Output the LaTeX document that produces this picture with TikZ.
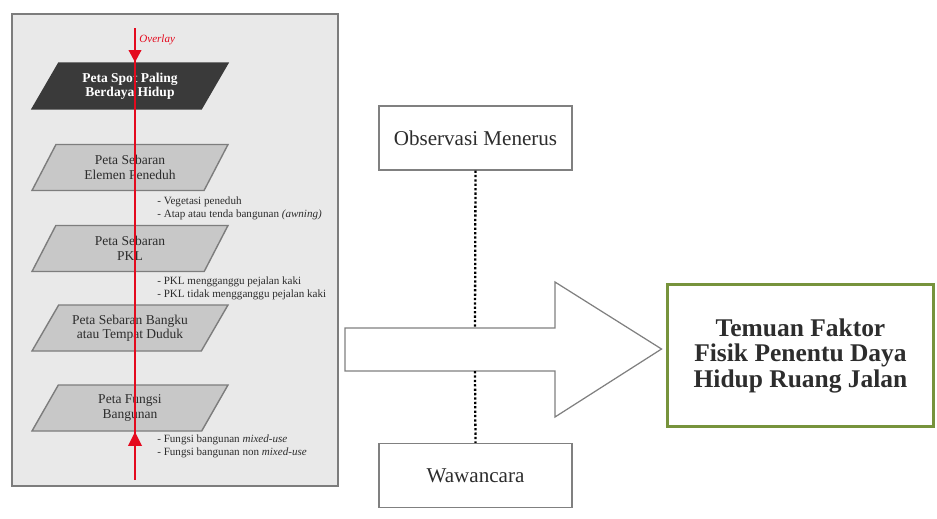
\documentclass[tikz,border=0pt]{standalone}
\usepackage{fontspec}
\setmainfont{Liberation Serif}
\usetikzlibrary{arrows.meta,shapes.geometric}
\definecolor{panelgray}{RGB}{233,233,233}
\definecolor{paragray}{RGB}{200,200,200}
\definecolor{paraedge}{RGB}{125,125,125}
\definecolor{darkpara}{RGB}{58,58,58}
\definecolor{textgray}{RGB}{45,45,45}
\definecolor{boxedge}{RGB}{128,128,128}
\definecolor{resgreen}{RGB}{119,147,60}
\definecolor{ovred}{RGB}{228,10,30}

\begin{document}
\begin{tikzpicture}[x=0.02cm, y=-0.02cm,
  peta/.style={trapezium, trapezium left angle=45, trapezium right angle=135,
    trapezium stretches body, minimum width=3.92cm, minimum height=0.92cm,
    draw=paraedge, fill=paragray, line width=0.8pt, align=center, inner sep=0pt,
    font=\fontsize{7.7}{8.2}\selectfont, text=textgray},
  note/.style={right, align=left, inner sep=0pt,
    font=\fontsize{6.3}{7.4}\selectfont, text=textgray},
  box/.style={draw=boxedge, line width=0.6pt, fill=white, minimum width=3.86cm,
    minimum height=1.28cm, font=\fontsize{12}{14}\selectfont, text=textgray},
  redline/.style={draw=ovred, line width=1.6pt},
  dots/.style={line width=1.3pt, dash pattern=on 1.3pt off 1.2pt}]
\useasboundingbox (0,0) rectangle (937,518);
% the panel
  \draw[draw=paraedge, fill=panelgray, line width=1pt] (12,14) rectangle (338,486);
% the maps
  \node[peta, fill=darkpara, draw=darkpara, text=white, font=\fontsize{7.7}{8.2}\selectfont\bfseries]
    (spot) at (130,86) {Peta Spot Paling\\Berdaya Hidup};
  \node[peta] (peneduh) at (130,167.5) {Peta Sebaran\\Elemen Peneduh};
  \node[peta] (pkl) at (130,248.5) {Peta Sebaran\\PKL};
  \node[peta] (bangku) at (130,328) {Peta Sebaran Bangku\\atau Tempat Duduk};
  \node[peta] (fungsi) at (130,408) {Peta Fungsi\\Bangunan};
% overlay line
  \coordinate (ovtop) at (135,28);
  \coordinate (ovbot) at (135,480);
  \draw[redline] (ovtop) -- (ovbot);
  \draw[redline, -{Triangle[length=7pt,width=7pt]}] (ovtop) -- (ovtop |- spot.north);
  \draw[redline, -{Triangle[length=8pt,width=7.5pt]}] (ovbot) -- (ovbot |- fungsi.south);
  \node[right, inner sep=0pt, text=ovred, font=\fontsize{6.3}{7}\selectfont\itshape]
    (ovlabel) at (139,40) {Overlay};
% notes
  \node[note] (note1) at (157,208) {- Vegetasi peneduh\\- Atap atau tenda bangunan \textit{(awning)}};
  \node[note] (note2) at (157,288) {- PKL mengganggu pejalan kaki\\- PKL tidak mengganggu pejalan kaki};
  \node[note] (note3) at (157,446) {- Fungsi bangunan \textit{mixed-use}\\- Fungsi bangunan non \textit{mixed-use}};
% the result
  \node[draw=resgreen, line width=1.7pt, minimum width=5.34cm, minimum height=2.86cm,
    align=center, text=textgray, font=\fontsize{14.5}{14.5}\selectfont\bfseries]
    (res) at (800.5,355.5) {Temuan Faktor\\Fisik Penentu Daya\\Hidup Ruang Jalan};
% big arrow
  \draw[draw=boxedge, fill=white, line width=0.7pt] (345,328) -- (555,328) -- (555,282)
    -- ([xshift=-0.08cm]res.west |- 0,349) -- (555,417) -- (555,371) -- (345,371) -- cycle;
% methods
  \node[box] (obs) at (475.5,138) {Observasi Menerus};
  \node[box] (waw) at (475.5,475.5) {Wawancara};
  \coordinate (shafttop) at (475,328);
  \coordinate (shaftbot) at (475,371);
  \draw[dots] (obs.south) -- (shafttop);
  \draw[dots] (shaftbot) -- (waw.north);
\end{tikzpicture}
\end{document}
